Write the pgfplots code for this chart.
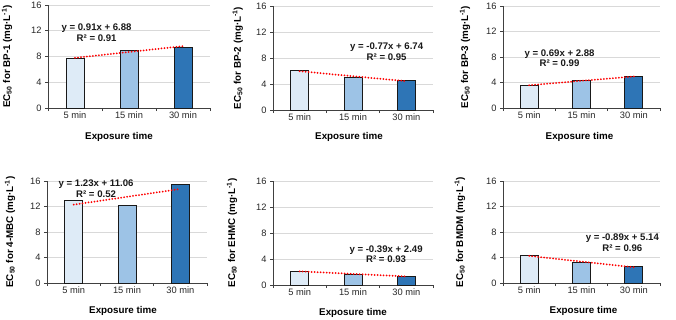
\documentclass[border=0pt]{standalone}
\usepackage{fontspec}
\setmainfont{Liberation Sans}
\usepackage{pgfplots}
\pgfplotsset{compat=1.18}
\definecolor{c1}{HTML}{DEEBF7}
\definecolor{c2}{HTML}{9DC3E6}
\definecolor{c3}{HTML}{2E75B6}
\definecolor{axc}{HTML}{404040}
\definecolor{grd}{HTML}{D9D9D9}
\pgfplotsset{
 panel/.style={
  scale only axis, ybar, bar width=18pt,
  ymin=0, ymax=16, ytick={0,4,8,12,16},
  xmin=-0.5, xmax=2.5,
  xtick={-0.5,0.5,1.5,2.5}, xticklabels={},
  extra x ticks={0,1,2}, extra x tick labels={5 min,15 min,30 min},
  extra x tick style={major tick length=0pt},
  axis lines=left, axis line style={-, draw=axc, line width=0.9pt},
  tick align=outside, major tick length=3pt, tick style={draw=axc, line width=0.9pt},
  ymajorgrids, grid style={draw=grd, line width=0.6pt},
  tick label style={font=\fontsize{9.3}{10}\selectfont, text=black!85},
  /pgf/number format/assume math mode=true,
  label style={font=\bfseries\fontsize{9.8}{11}\selectfont},
  xlabel={Exposure time},
  xlabel style={at={(axis description cs:0.5,0)}, anchor=center, yshift=-29pt},
  anchor=south west,
  clip=false,
 },
 tr/.style={red, line width=2pt, line cap=round, dash pattern=on 0pt off 3pt, sharp plot, mark=none},
 bb/.style={draw=black!90, line width=0.9pt, bar shift=0pt},
}
\tikzset{eq/.style={font=\bfseries\fontsize{9.6}{10.8}\selectfont, align=center, text=black!90}}
\begin{document}
\begin{tikzpicture}
\path[use as bounding box] (0,0) rectangle (676pt,319pt);

% Panel 1: BP-1
\begin{axis}[panel, at={(48pt,211pt)}, width=162pt, height=103pt,
  ylabel={EC\textsubscript{50} for BP-1 (mg·L\textsuperscript{-1})},
  ylabel style={at={(axis description cs:-0.253,0.5)}, anchor=center},
  xlabel style={xshift=-10pt}]
\addplot[bb, fill=c1] coordinates {(0,7.68)};
\addplot[bb, fill=c2] coordinates {(1,8.97)};
\addplot[bb, fill=c3] coordinates {(2,9.45)};
\addplot[tr] coordinates {(0,7.79) (2,9.61)};
\node[eq] at (axis cs:0.40,11.73) {y = 0.91x + 6.88\\R² = 0.91};
\end{axis}

% Panel 2: BP-2
\begin{axis}[panel, at={(273pt,209pt)}, width=160pt, height=104pt,
  ylabel={EC\textsubscript{50} for BP-2 (mg·L\textsuperscript{-1})},
  ylabel style={at={(axis description cs:-0.22,0.5)}, anchor=center},
  xlabel style={xshift=-4pt, yshift=2pt}]
\addplot[bb, fill=c1] coordinates {(0,6.05)};
\addplot[bb, fill=c2] coordinates {(1,5.03)};
\addplot[bb, fill=c3] coordinates {(2,4.51)};
\addplot[tr] coordinates {(0,5.97) (2,4.43)};
\node[eq] at (axis cs:1.63,8.94) {y = -0.77x + 6.74\\R² = 0.95};
\end{axis}

% Panel 3: BP-3
\begin{axis}[panel, at={(503pt,211pt)}, width=157pt, height=102pt,
  ylabel={EC\textsubscript{50} for BP-3 (mg·L\textsuperscript{-1})},
  ylabel style={at={(axis description cs:-0.242,0.5)}, anchor=center},
  xlabel style={xshift=-2pt}]
\addplot[bb, fill=c1] coordinates {(0,3.56)};
\addplot[bb, fill=c2] coordinates {(1,4.28)};
\addplot[bb, fill=c3] coordinates {(2,4.94)};
\addplot[tr] coordinates {(0,3.57) (2,4.95)};
\node[eq] at (axis cs:0.58,7.8) {y = 0.69x + 2.88\\R² = 0.99};
\end{axis}

% Panel 4: 4-MBC
\begin{axis}[panel, at={(47pt,36pt)}, width=160pt, height=102pt,
  ylabel={EC\textsubscript{50} for 4-MBC (mg·L\textsuperscript{-1})},
  ylabel style={at={(axis description cs:-0.231,0.5)}, anchor=center},
  xlabel style={xshift=-4pt, yshift=1pt}]
\addplot[bb, fill=c1] coordinates {(0,12.98)};
\addplot[bb, fill=c2] coordinates {(1,12.15)};
\addplot[bb, fill=c3] coordinates {(2,15.43)};
\addplot[tr] coordinates {(0,12.29) (2,14.75)};
\node[eq] at (axis cs:0.42,14.85) {y = 1.23x + 11.06\\R² = 0.52};
\end{axis}

% Panel 5: EHMC
\begin{axis}[panel, at={(273pt,34pt)}, width=160pt, height=104pt,
  ylabel={EC\textsubscript{50} for EHMC (mg·L\textsuperscript{-1})},
  ylabel style={at={(axis description cs:-0.256,0.5)}, anchor=center},
  xlabel style={yshift=1pt}]
\addplot[bb, fill=c1] coordinates {(0,2.15)};
\addplot[bb, fill=c2] coordinates {(1,1.68)};
\addplot[bb, fill=c3] coordinates {(2,1.35)};
\addplot[tr] coordinates {(0,2.10) (2,1.32)};
\node[eq] at (axis cs:1.62,4.74) {y = -0.39x + 2.49\\R² = 0.93};
\end{axis}

% Panel 6: BMDM
\begin{axis}[panel, at={(503pt,36pt)}, width=157pt, height=102pt,
  ylabel={EC\textsubscript{50} for BMDM (mg·L\textsuperscript{-1})},
  ylabel style={at={(axis description cs:-0.274,0.5)}, anchor=center},
  xlabel style={xshift=2pt, yshift=1pt}]
\addplot[bb, fill=c1] coordinates {(0,4.33)};
\addplot[bb, fill=c2] coordinates {(1,3.17)};
\addplot[bb, fill=c3] coordinates {(2,2.58)};
\addplot[tr] coordinates {(0,4.25) (2,2.47)};
\node[eq] at (axis cs:1.78,6.35) {y = -0.89x + 5.14\\R² = 0.96};
\end{axis}
\end{tikzpicture}
\end{document}
